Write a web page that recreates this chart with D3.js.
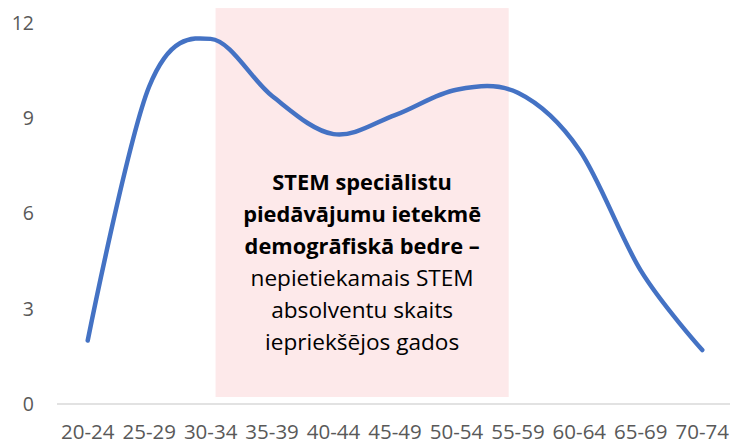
<!DOCTYPE html>
<html>
<head>
<meta charset="utf-8">
<script src="https://cdn.jsdelivr.net/npm/d3@7"></script>
<style>
  html, body { margin: 0; padding: 0; background: #fff; }
  svg { display: block; }
  .tick-label { font-family: "Open Sans", sans-serif; fill: #595959; }
  .note { font-family: "Open Sans", sans-serif; fill: #000; }
</style>
</head>
<body>
<svg id="chart" width="730" height="446"></svg>
<script>
// Age groups and values
const categories = ['20-24', '25-29', '30-34', '35-39', '40-44', '45-49', '50-54', '55-59', '60-64', '65-69', '70-74'];
const values = [2.0, 10.0, 11.5, 9.7, 8.5, 9.1, 9.9, 9.8, 8.0, 4.2, 1.7];
const yTicks = [0, 3, 6, 9, 12];

// Highlighted band (in category index / value units)
const bandRange = [2.08, 6.85];
const bandValues = [0.22, 12.47];
const noteBold = ['STEM speciālistu', 'piedāvājumu ietekmē', 'demogrāfiskā bedre –'];
const noteNormal = ['nepietiekamais STEM', 'absolventu skaits', 'iepriekšējos gados'];

const svg = d3.select('#chart');

const x = d3.scaleBand()
    .domain(categories)
    .range([57, 733])
    .padding(0);
const xc = c => x(c) + x.bandwidth() / 2;
// index based scale for the band
const xi = d3.scaleLinear()
    .domain([0, categories.length - 1])
    .range([xc(categories[0]), xc(categories[categories.length - 1])]);

const y = d3.scaleLinear()
    .domain([0, 12])
    .range([404, 23]);

// pink band
svg.append('rect')
    .attr('x', xi(bandRange[0]))
    .attr('width', xi(bandRange[1]) - xi(bandRange[0]))
    .attr('y', y(bandValues[1]))
    .attr('height', y(bandValues[0]) - y(bandValues[1]))
    .attr('fill', '#fde9ea');

// axis line
svg.append('line')
    .attr('x1', 57).attr('x2', 733)
    .attr('y1', y(0)).attr('y2', y(0))
    .attr('stroke', '#d9d9d9')
    .attr('stroke-width', 1.5);

// y tick labels
svg.append('g')
    .selectAll('text')
    .data(yTicks)
    .join('text')
    .attr('class', 'tick-label')
    .attr('x', 34)
    .attr('y', d => y(d))
    .attr('dy', '0.35em')
    .attr('text-anchor', 'end')
    .attr('font-size', 19.5)
    .text(d => d);

// x tick labels
svg.append('g')
    .selectAll('text')
    .data(categories)
    .join('text')
    .attr('class', 'tick-label')
    .attr('x', d => xc(d))
    .attr('y', 432)
    .attr('dy', '0.35em')
    .attr('text-anchor', 'middle')
    .attr('font-size', 20.5)
    .text(d => d);

// line
const line = d3.line()
    .x((d, i) => xc(categories[i]))
    .y(d => y(d))
    .curve(d3.curveCardinal.tension(0));

svg.append('path')
    .datum(values)
    .attr('d', line)
    .attr('fill', 'none')
    .attr('stroke', '#4472c4')
    .attr('stroke-width', 4.5)
    .attr('stroke-linecap', 'round')
    .attr('stroke-linejoin', 'round');

// annotation text
const cx = (xi(bandRange[0]) + xi(bandRange[1])) / 2;
const noteLines = noteBold.map(t => ({ t, bold: true }))
    .concat(noteNormal.map(t => ({ t, bold: false })));

svg.append('g')
    .selectAll('text')
    .data(noteLines)
    .join('text')
    .attr('class', 'note')
    .attr('x', cx)
    .attr('y', (d, i) => 182 + i * 32)
    .attr('dy', '0.35em')
    .attr('text-anchor', 'middle')
    .attr('font-size', d => d.bold ? 21.8 : 22.6)
    .attr('font-weight', d => d.bold ? 700 : 400)
    .text(d => d.t);
</script>
</body>
</html>
